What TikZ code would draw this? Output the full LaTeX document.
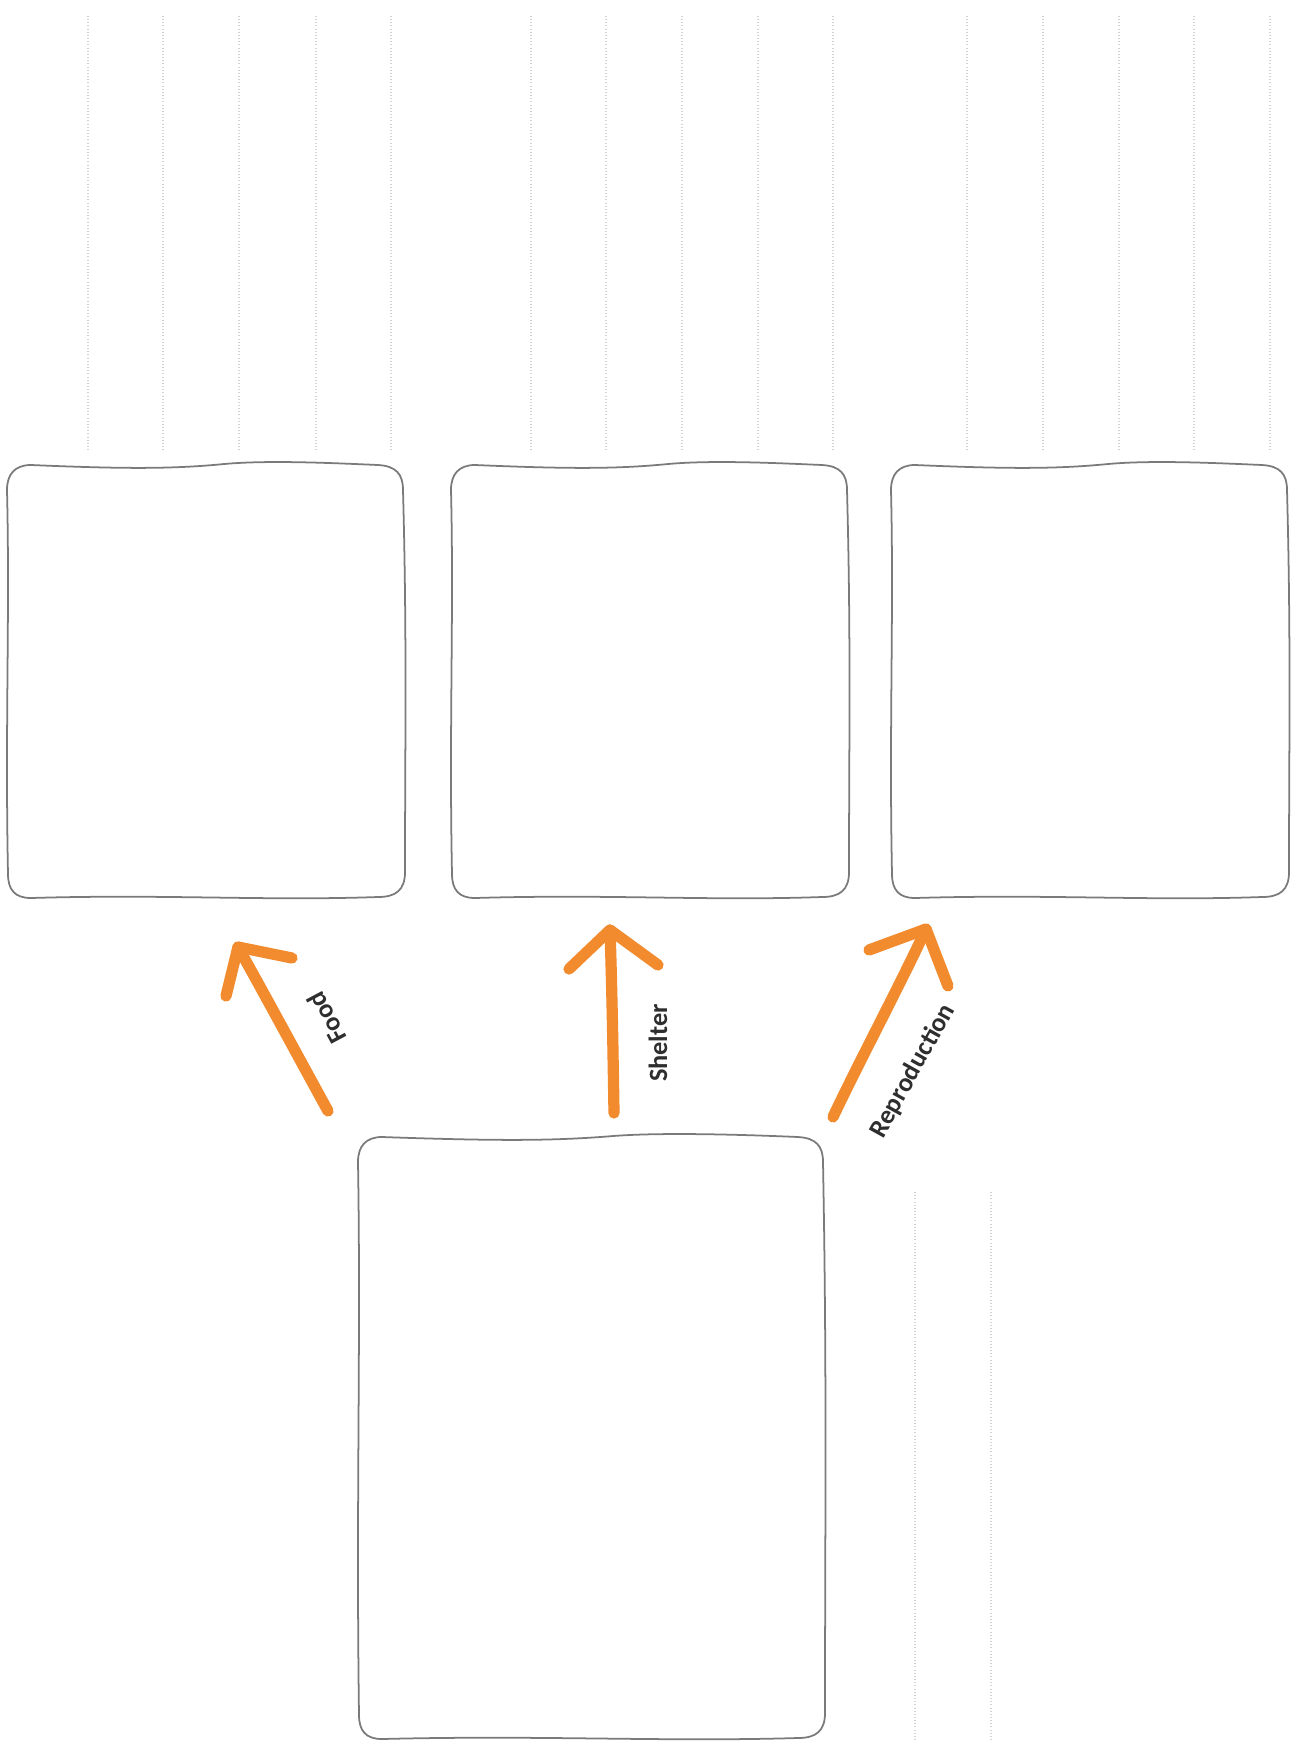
\documentclass[tikz,border=0pt]{standalone}
\usepackage{fontspec}
\newfontfamily\lblfont{Carlito}
\usetikzlibrary{calc}
\definecolor{arroworange}{HTML}{F28A2E}
\definecolor{boxgray}{HTML}{7A7A7A}
\definecolor{dotgray}{HTML}{D2D2D2}
\definecolor{lbltext}{HTML}{2E2E2E}
\tikzset{
  boxline/.style={draw=boxgray, line width=1pt, line join=round},
  dotline/.style={draw=dotgray, line width=0.6pt, dash pattern=on 0.5pt off 1.3pt},
  orangearrow/.style={draw=arroworange, line width=6.4pt, line cap=round, line join=round},
  lbl/.style={font=\lblfont\bfseries\fontsize{15}{18}\selectfont, text=lbltext, inner sep=0pt}
}
% name, x1, y1, x2, y2  (pixel units, y downward)
\newcommand\sketchbox[5]{%
  \path (#2,#3) coordinate (#1-nw) (#4,#5) coordinate (#1-se);
  \node[inner sep=0pt, minimum size=0pt] (#1) at ({(#2+#4)/2},{(#3+#5)/2}) {};
  \draw[boxline]
    ({#2+24},{#3+1}) .. controls ({#2+0.30*(#4-#2)},{#3+5}) and ({#2+0.42*(#4-#2)},{#3+5}) .. ({#2+0.55*(#4-#2)},{#3})
    .. controls ({#2+0.66*(#4-#2)},{#3-4}) and ({#4-70},{#3-1}) .. ({#4-24},{#3+1})
    .. controls ({#4-6},{#3+2}) and ({#4+1},{#3+10}) .. ({#4+1},{#3+26})
    .. controls ({#4+5},{#3+0.40*(#5-#3)}) and ({#4+3},{#3+0.65*(#5-#3)}) .. ({#4+3},{#5-26})
    .. controls ({#4+3},{#5-8}) and ({#4-6},{#5-1}) .. ({#4-24},{#5-1})
    .. controls ({#4-0.35*(#4-#2)},{#5+3}) and ({#2+0.40*(#4-#2)},{#5-4}) .. ({#2+24},{#5})
    .. controls ({#2+8},{#5}) and ({#2+1},{#5-8}) .. ({#2+1},{#5-24})
    .. controls ({#2-2},{#3+0.60*(#5-#3)}) and ({#2+3},{#3+0.35*(#5-#3)}) .. ({#2},{#3+26})
    .. controls ({#2},{#3+10}) and ({#2+8},{#3+1}) .. cycle;
}
\begin{document}
\begin{tikzpicture}[x=0.02cm, y=-0.02cm]
\useasboundingbox (0,0) rectangle (1293,1742);
\fill[white] (0,0) rectangle (1293,1742);

% dotted guide lines
\foreach \xx in {88,163,239,316,391, 531,606,682,758,833, 967,1043,1119,1194,1270}
  \draw[dotline] (\xx,16) -- (\xx,450);
\foreach \xx in {915,991}
  \draw[dotline] (\xx,1192) -- (\xx,1742);

% boxes
\sketchbox{food}{7}{464}{402}{898}
\sketchbox{shelter}{451}{464}{846}{898}
\sketchbox{repro}{891}{464}{1286}{898}
\sketchbox{animal}{358}{1136}{822}{1739}

% arrow coordinates
\coordinate (foodtail) at (328,1111);
\coordinate (foodtip) at (238,947);
\coordinate (foodl) at (226,996);
\coordinate (foodr) at (292,958);

\coordinate (sheltail) at (614,1113);
\coordinate (sheltip) at (610,930);
\coordinate (shell) at (569,969);
\coordinate (shelr) at (658,965);

\coordinate (reprotail) at (833,1117);
\coordinate (reprotip) at (926,929);
\coordinate (reprol) at (869,950);
\coordinate (repror) at (948,986);

\draw[orangearrow] (foodtail) .. controls (300,1060) and (265,995) .. (foodtip);
\draw[orangearrow] (foodl) -- (foodtip) -- (foodr);

\draw[orangearrow] (sheltail) .. controls (613,1050) and (612,990) .. (sheltip);
\draw[orangearrow] (shell) -- (sheltip) -- (shelr);

\draw[orangearrow] (reprotail) .. controls (860,1060) and (900,985) .. (reprotip);
\draw[orangearrow] (reprol) -- (reprotip) -- (repror);

% labels
\node[lbl, rotate=118] (foodlbl) at (327,1018) {Food};
\node[lbl, rotate=90] (shellbl) at (658,1043) {Shelter};
\node[lbl, rotate=61] (reprolbl) at (913,1071) {Reproduction};
\end{tikzpicture}
\end{document}
